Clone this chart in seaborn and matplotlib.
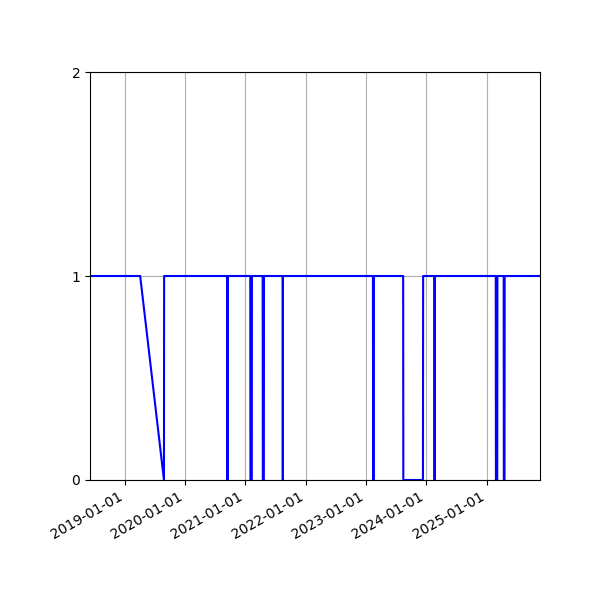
import pandas as pd
import seaborn as sns
import matplotlib
matplotlib.use('Agg')
import matplotlib.pyplot as plt
import matplotlib.dates as mdates

# breakpoints of the status series (1 = up, 0 = down)
dates = [
    '2018-06-05', '2019-04-05', '2019-08-27', '2019-08-28',
    '2020-09-14', '2020-09-15', '2020-09-16',
    '2021-01-31', '2021-02-01', '2021-02-09', '2021-02-10',
    '2021-04-16', '2021-04-17', '2021-04-23', '2021-04-24',
    '2021-08-15', '2021-08-16', '2021-08-17',
    '2023-02-13', '2023-02-14', '2023-02-18', '2023-02-19',
    '2023-08-15', '2023-08-16', '2023-12-13', '2023-12-14',
    '2024-02-20', '2024-02-21', '2024-02-22', '2024-02-23',
    '2025-02-26', '2025-02-27', '2025-03-07', '2025-03-08',
    '2025-04-15', '2025-04-16', '2025-04-20', '2025-04-21',
    '2025-11-21',
]
status = [
    1, 1, 0, 1,
    1, 0, 1,
    1, 0, 0, 1,
    1, 0, 0, 1,
    1, 0, 1,
    1, 0, 0, 1,
    1, 0, 0, 1,
    1, 0, 0, 1,
    1, 0, 0, 1,
    1, 0, 0, 1,
    1,
]

df = pd.DataFrame({'date': pd.to_datetime(dates), 'status': status})

fig, ax = plt.subplots(figsize=(6, 6), dpi=100)
sns.lineplot(x='date', y='status', data=df, color='blue', linewidth=1.5, ax=ax)

ax.set_xlim(df['date'].min(), df['date'].max())
ax.set_ylim(0, 2)
ax.set_yticks([0, 1, 2])
ax.xaxis.set_major_locator(mdates.YearLocator())
ax.xaxis.set_major_formatter(mdates.DateFormatter('%Y-%m-%d'))
ax.set_xlabel('')
ax.set_ylabel('')
ax.grid(True)

fig.autofmt_xdate()
fig.subplots_adjust(left=0.15, right=0.9, bottom=0.2, top=0.88)
fig.savefig('out.png')
